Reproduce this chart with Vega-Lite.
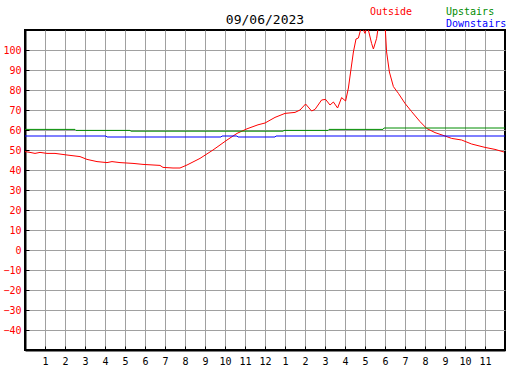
{
  "$schema": "https://vega.github.io/schema/vega-lite/v6.json",
  "width": 480,
  "height": 320,
  "autosize": {"type": "none"},
  "padding": {"left": 25, "top": 30, "right": 22, "bottom": 20},
  "background": "white",
  "title": {"text": "09/06/2023", "font": "DejaVu Sans Mono", "fontSize": 13, "fontWeight": "normal", "color": "black", "offset": 0, "dy": 20, "anchor": "middle"},
  "config": {"view": {"stroke": "black", "strokeWidth": 2}, "font": "DejaVu Sans Mono"},
  "datasets": {
    "temps": [
      {"s": "Outside", "t": 0, "v": 49.2}, {"s": "Outside", "t": 0.25, "v": 48.8}, {"s": "Outside", "t": 0.5, "v": 48.3}, {"s": "Outside", "t": 0.75, "v": 48.8},
      {"s": "Outside", "t": 1.1, "v": 48.3}, {"s": "Outside", "t": 1.5, "v": 48.3}, {"s": "Outside", "t": 2.1, "v": 47.5}, {"s": "Outside", "t": 2.75, "v": 46.7},
      {"s": "Outside", "t": 3.1, "v": 45.3}, {"s": "Outside", "t": 3.6, "v": 44.2}, {"s": "Outside", "t": 4.1, "v": 43.7}, {"s": "Outside", "t": 4.35, "v": 44.2},
      {"s": "Outside", "t": 4.75, "v": 43.7}, {"s": "Outside", "t": 5.4, "v": 43.3}, {"s": "Outside", "t": 5.9, "v": 42.8}, {"s": "Outside", "t": 6.75, "v": 42.3},
      {"s": "Outside", "t": 6.9, "v": 41.3}, {"s": "Outside", "t": 7.4, "v": 41}, {"s": "Outside", "t": 7.75, "v": 41}, {"s": "Outside", "t": 8.1, "v": 42.5},
      {"s": "Outside", "t": 8.75, "v": 45.8}, {"s": "Outside", "t": 9.4, "v": 50}, {"s": "Outside", "t": 10.1, "v": 55}, {"s": "Outside", "t": 10.6, "v": 58.3},
      {"s": "Outside", "t": 11.1, "v": 60.6}, {"s": "Outside", "t": 11.65, "v": 62.6}, {"s": "Outside", "t": 12.0, "v": 63.5}, {"s": "Outside", "t": 12.5, "v": 66.3},
      {"s": "Outside", "t": 13.0, "v": 68.3}, {"s": "Outside", "t": 13.5, "v": 68.8}, {"s": "Outside", "t": 13.75, "v": 70}, {"s": "Outside", "t": 14.03, "v": 73},
      {"s": "Outside", "t": 14.33, "v": 69.5}, {"s": "Outside", "t": 14.5, "v": 70.3}, {"s": "Outside", "t": 14.83, "v": 75}, {"s": "Outside", "t": 15.03, "v": 75.3},
      {"s": "Outside", "t": 15.25, "v": 72.5}, {"s": "Outside", "t": 15.42, "v": 74}, {"s": "Outside", "t": 15.63, "v": 71}, {"s": "Outside", "t": 15.83, "v": 76.2},
      {"s": "Outside", "t": 16.03, "v": 74.5}, {"s": "Outside", "t": 16.17, "v": 81}, {"s": "Outside", "t": 16.28, "v": 89}, {"s": "Outside", "t": 16.42, "v": 99},
      {"s": "Outside", "t": 16.55, "v": 105.5}, {"s": "Outside", "t": 16.67, "v": 106}, {"s": "Outside", "t": 16.83, "v": 112}, {"s": "Outside", "t": 17.0, "v": 108.3},
      {"s": "Outside", "t": 17.12, "v": 112}, {"s": "Outside", "t": 17.33, "v": 103.3}, {"s": "Outside", "t": 17.42, "v": 100.5}, {"s": "Outside", "t": 17.58, "v": 105.8},
      {"s": "Outside", "t": 17.67, "v": 112}, {"s": "Outside", "t": 18.0, "v": 113}, {"s": "Outside", "t": 18.08, "v": 99}, {"s": "Outside", "t": 18.22, "v": 89},
      {"s": "Outside", "t": 18.42, "v": 81.7}, {"s": "Outside", "t": 18.67, "v": 78.3}, {"s": "Outside", "t": 19.0, "v": 73.3}, {"s": "Outside", "t": 19.33, "v": 69.2},
      {"s": "Outside", "t": 19.75, "v": 64.2}, {"s": "Outside", "t": 20.08, "v": 60.8}, {"s": "Outside", "t": 20.5, "v": 58.7}, {"s": "Outside", "t": 21.0, "v": 57},
      {"s": "Outside", "t": 21.33, "v": 55.8}, {"s": "Outside", "t": 21.83, "v": 55}, {"s": "Outside", "t": 22.33, "v": 53}, {"s": "Outside", "t": 23.0, "v": 51.3},
      {"s": "Outside", "t": 23.5, "v": 50.3}, {"s": "Outside", "t": 23.95, "v": 49},
      {"s": "Upstairs", "t": 0, "v": 60.3}, {"s": "Upstairs", "t": 2.5, "v": 60.3}, {"s": "Upstairs", "t": 2.55, "v": 59.8}, {"s": "Upstairs", "t": 5.25, "v": 59.8},
      {"s": "Upstairs", "t": 5.3, "v": 59.4}, {"s": "Upstairs", "t": 12.9, "v": 59.4}, {"s": "Upstairs", "t": 12.95, "v": 59.8}, {"s": "Upstairs", "t": 15.15, "v": 59.8},
      {"s": "Upstairs", "t": 15.2, "v": 60.3}, {"s": "Upstairs", "t": 17.9, "v": 60.3}, {"s": "Upstairs", "t": 17.95, "v": 61}, {"s": "Upstairs", "t": 24, "v": 61},
      {"s": "Downstairs", "t": 0, "v": 57}, {"s": "Downstairs", "t": 4.05, "v": 57}, {"s": "Downstairs", "t": 4.1, "v": 56.5}, {"s": "Downstairs", "t": 9.8, "v": 56.5},
      {"s": "Downstairs", "t": 9.85, "v": 57}, {"s": "Downstairs", "t": 10.6, "v": 57}, {"s": "Downstairs", "t": 10.65, "v": 56.5}, {"s": "Downstairs", "t": 12.5, "v": 56.5},
      {"s": "Downstairs", "t": 12.55, "v": 57}, {"s": "Downstairs", "t": 24, "v": 57}
    ]
  },
  "data": {"name": "temps"},
  "mark": {"type": "line", "strokeWidth": 1, "clip": true},
  "encoding": {
    "x": {
      "field": "t", "type": "quantitative",
      "scale": {"domain": [0, 24], "nice": false, "zero": false},
      "axis": {
        "values": [1, 2, 3, 4, 5, 6, 7, 8, 9, 10, 11, 12, 13, 14, 15, 16, 17, 18, 19, 20, 21, 22, 23],
        "labelExpr": "datum.value == 12 ? '12' : '' + (datum.value % 12)",
        "title": null, "grid": true, "gridColor": "#a0a0a0", "gridOpacity": 1,
        "tickColor": "black", "tickSize": -4, "labelPadding": 10,
        "domainColor": "black", "domainWidth": 2,
        "labelFont": "DejaVu Sans Mono", "labelFontSize": 10, "labelColor": "black"
      }
    },
    "y": {
      "field": "v", "type": "quantitative",
      "scale": {"domain": [-50, 110], "nice": false, "zero": false},
      "axis": {
        "values": [-40, -30, -20, -10, 0, 10, 20, 30, 40, 50, 60, 70, 80, 90, 100],
        "title": null, "grid": true, "gridColor": "#a0a0a0", "gridOpacity": 1,
        "tickColor": "black", "tickSize": -4, "labelPadding": 8,
        "domainColor": "black", "domainWidth": 2,
        "labelFont": "DejaVu Sans Mono", "labelFontSize": 10, "labelColor": "red"
      }
    },
    "color": {
      "field": "s", "type": "nominal",
      "scale": {"domain": ["Outside", " ", "Upstairs", "Downstairs"], "range": ["#ff0000", "#ffffff", "#008c00", "#0000ff"]},
      "legend": {
        "orient": "none", "legendX": 335, "legendY": -23, "title": null,
        "values": ["Outside", " ", "Upstairs", "Downstairs"],
        "columns": 2, "columnPadding": 23, "rowPadding": 2,
        "symbolSize": 0, "symbolOpacity": 0, "symbolStrokeWidth": 0, "labelOffset": 0,
        "labelFont": "DejaVu Sans Mono", "labelFontSize": 10,
        "encode": {"labels": {"update": {"fill": {"scale": "color", "field": "value"}}}}
      }
    }
  }
}
